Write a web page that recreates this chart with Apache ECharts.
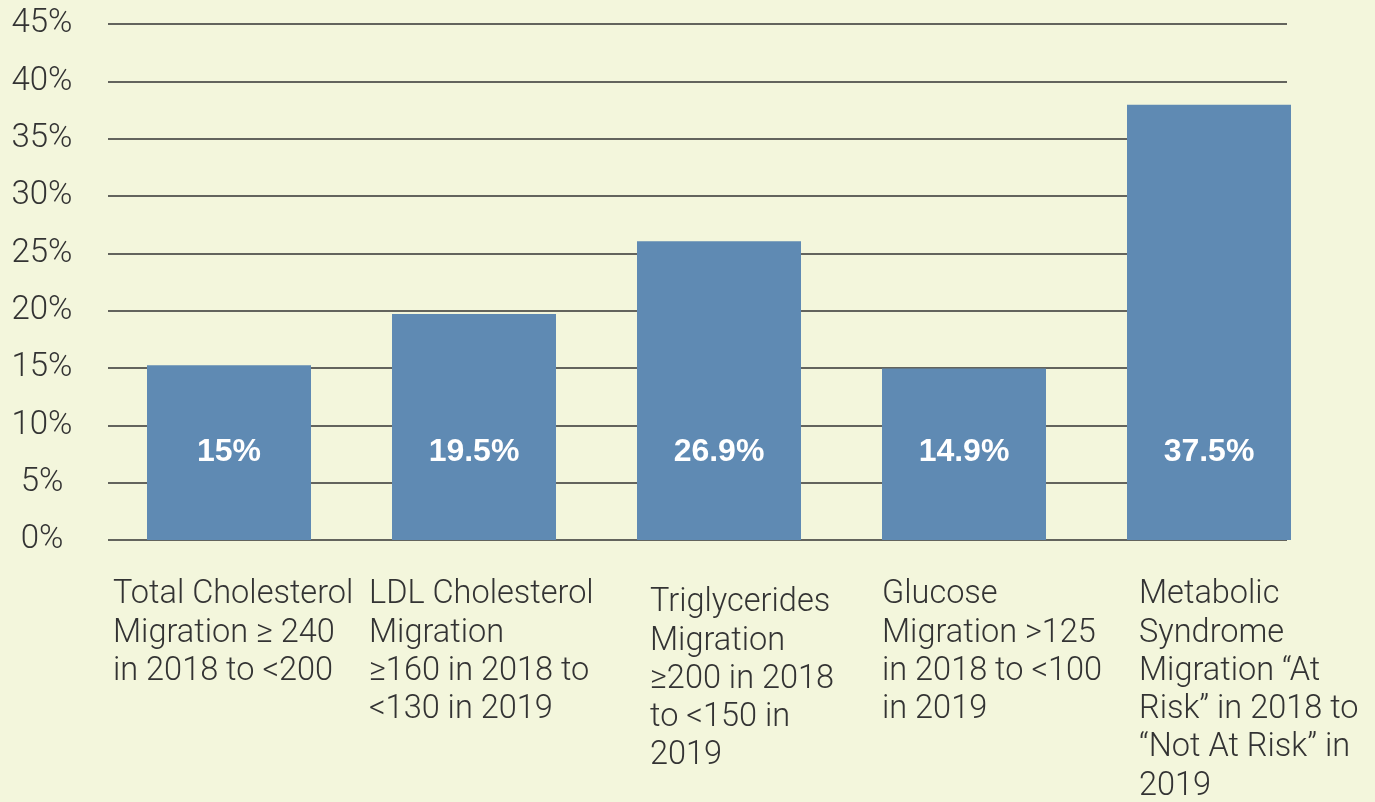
<!DOCTYPE html>
<html>
<head>
<meta charset="utf-8">
<script src="https://cdn.jsdelivr.net/npm/echarts@6/dist/echarts.min.js"></script>
<style>
html,body{margin:0;padding:0;background:#f3f6dc;}
#chart{width:1375px;height:802px;}
</style>
</head>
<body>
<div id="chart"></div>
<script>
// ---- data ----
const categories = [
  "Total Cholesterol\nMigration ≥ 240\nin 2018 to <200",
  "LDL Cholesterol\nMigration\n≥160 in 2018 to\n<130 in 2019",
  "Triglycerides\nMigration\n≥200 in 2018\nto <150 in\n2019",
  "Glucose\nMigration >125\nin 2018 to <100\nin 2019",
  "Metabolic\nSyndrome\nMigration “At\nRisk” in 2018 to\n“Not At Risk” in\n2019"
];
const barValues = [15.25, 19.7, 26.05, 14.95, 37.95];
const barLabels = ["15%", "19.5%", "26.9%", "14.9%", "37.5%"];
const yTicks = [0, 5, 10, 15, 20, 25, 30, 35, 40, 45];

// ---- styling (per-category label box widths / offsets) ----
const labelBoxWidths = [232, 210, 138, 164, 140];
const labelTopPad = [0, 0, 8, 0, 0];

const chart = echarts.init(document.getElementById('chart'));
const catFont = { fontFamily: 'Roboto', fontWeight: 300, fontSize: 32.5, color: '#333' };

const xData = categories.map((c, i) => ({
  value: c,
  textStyle: {
    width: labelBoxWidths[i],
    padding: [labelTopPad[i], 0, 0, 0]
  }
}));

const option = {
  backgroundColor: '#f3f6dc',
  animation: false,
  grid: [
    { left: 106.5, right: 43.5, top: 24, bottom: 262, outerBoundsMode: 'none', containLabel: false },
    { left: 108, right: 88, top: 24, bottom: 262, outerBoundsMode: 'none', containLabel: false }
  ],
  xAxis: [
    {
      type: 'category', gridIndex: 0, data: xData,
      axisLine: { show: false }, axisTick: { show: false },
      axisLabel: {
        interval: 0, margin: 36, align: 'center', verticalAlign: 'top',
        lineHeight: 38.3, overflow: 'none',
        formatter: v => v.split('\n').map(s => '{a|' + s + '}').join('\n'),
        rich: { a: Object.assign({ align: 'left', lineHeight: 38.3 }, catFont) },
        ...catFont
      }
    },
    { type: 'value', gridIndex: 1, show: false, min: 0, max: 1 }
  ],
  yAxis: [
    { type: 'value', gridIndex: 0, min: 0, max: 45, interval: 5, show: false, splitLine: { show: false } },
    {
      type: 'value', gridIndex: 1, min: 0, max: 45, interval: 5,
      axisLine: { show: false }, axisTick: { show: false },
      splitLine: { show: true, lineStyle: { color: '#333', width: 1.6 } },
      axisLabel: {
        margin: 66, align: 'center', verticalAlign: 'middle', padding: [10, 0, 0, 0],
        fontFamily: 'Roboto', fontWeight: 300, fontSize: 33, color: '#333',
        formatter: v => yTicks.includes(v) ? v + '%' : ''
      }
    }
  ],
  series: [
    {
      type: 'bar', xAxisIndex: 0, yAxisIndex: 0,
      data: barValues,
      barWidth: 164,
      itemStyle: { color: '#5f8ab3' },
      z: 5,
      label: {
        show: true, position: 'insideBottom', distance: 72,
        formatter: p => barLabels[p.dataIndex],
        color: '#ffffff', fontFamily: 'Liberation Sans', fontWeight: 'bold', fontSize: 32
      }
    }
  ]
};
chart.setOption(option);
</script>
</body>
</html>
